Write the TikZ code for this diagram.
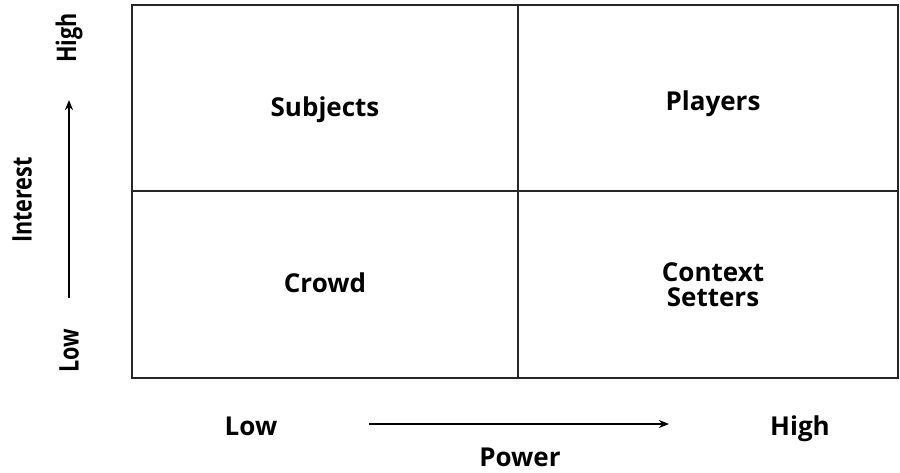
\documentclass[tikz,border=0pt]{standalone}
\usepackage{fontspec}
\usetikzlibrary{arrows.meta}
\setmainfont{Open Sans}
\newfontfamily\narrowfont[FakeStretch=0.8]{Open Sans}
\begin{document}
\begin{tikzpicture}[x=1pt, y=-1pt,
  cell/.style={font=\fontsize{26}{25}\selectfont\bfseries, align=center},
  axislabel/.style={font=\fontsize{26}{25}\selectfont\bfseries},
  sidelabel/.style={font=\narrowfont\fontsize{27}{25}\selectfont\bfseries, rotate=90},
  grid/.style={draw=black!85, line width=1.8pt},
  axis/.style={->, line width=2pt, >={Stealth[length=10pt, width=8pt, inset=3pt]}}]
\useasboundingbox (0,0) rectangle (900,472);

\draw[grid] (132,5) rectangle (898,378);
\draw[grid] (518,5) -- (518,378);
\draw[grid] (132,191) -- (898,191);

\node[cell] (subj) at (325,110) {Subjects};
\node[cell] (play) at (713,104) {Players};
\node[cell] (crowd) at (325,283) {Crowd};
\node[cell] (ctx) at (713,285) {Context\\Setters};

\node[sidelabel] (ihigh) at (69,38) {High};
\node[sidelabel] (ilow) at (69,351) {Low};
\node[sidelabel] (interest) at (22,200) {Interest};
\coordinate (ystart) at (69,298);
\coordinate (yend) at (69,100);
\draw[axis] (ystart) -- (yend);

\node[axislabel, anchor=base] (plow) at (251,435) {Low};
\node[axislabel, anchor=base] (phigh) at (800,435) {High};
\node[axislabel, anchor=base] (power) at (520,466) {Power};
\coordinate (xstart) at (369,424);
\coordinate (xend) at (669,424);
\draw[axis] (xstart) -- (xend);
\end{tikzpicture}
\end{document}
